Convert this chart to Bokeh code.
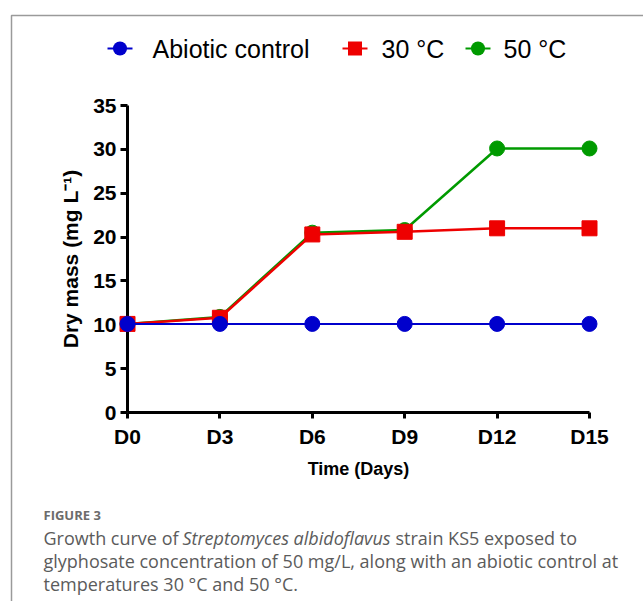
from bokeh.plotting import figure
from bokeh.models import Range1d, FixedTicker
from bokeh.core.properties import value
from bokeh.embed import file_html
from bokeh.resources import INLINE

# ---- data ----
days = [0, 3, 6, 9, 12, 15]
day_labels = ["D0", "D3", "D6", "D9", "D12", "D15"]
abiotic = [10.1, 10.1, 10.1, 10.1, 10.1, 10.1]
temp30 = [10.1, 10.8, 20.3, 20.6, 21.0, 21.0]
temp50 = [10.1, 10.9, 20.5, 20.8, 30.1, 30.1]
y_ticks = [0, 5, 10, 15, 20, 25, 30, 35]
series_names = ["Abiotic control", "30 °C", "50 °C"]

BLUE = "#0000CC"
RED = "#EE0000"
GREEN = "#009A00"
FONT = "Liberation Sans"

W, H = 643, 601
FL, FR, FT, FB = 127, 589, 105, 412  # frame edges in px

p = figure(width=W, height=H,
           x_range=Range1d(days[0], days[-1]), y_range=Range1d(y_ticks[0], y_ticks[-1]),
           output_backend="svg", toolbar_location=None,
           min_border_left=FL, min_border_right=W - FR,
           min_border_top=FT, min_border_bottom=H - FB)
p.outline_line_color = None
p.xgrid.visible = False
p.ygrid.visible = False

for ax in (p.xaxis[0], p.yaxis[0]):
    ax.axis_line_width = 3
    ax.axis_line_color = "black"
    ax.major_tick_line_width = 3
    ax.major_tick_line_color = "black"
    ax.major_tick_in = 0
    ax.minor_tick_line_color = None
    ax.major_label_text_font = FONT
    ax.major_label_text_font_style = "bold"
    ax.major_label_text_font_size = "21px"
    ax.major_label_text_color = "black"
    ax.axis_label_text_font = FONT
    ax.axis_label_text_font_style = "bold"
    ax.axis_label_text_color = "black"

xa = p.xaxis[0]
xa.ticker = FixedTicker(ticks=days)
xa.major_label_overrides = {d: lab for d, lab in zip(days, day_labels)}
xa.major_tick_out = 6
xa.major_label_standoff = 6
xa.axis_label = "Time (Days)"
xa.axis_label_text_font_size = "18px"
xa.axis_label_standoff = 8

ya = p.yaxis[0]
ya.ticker = FixedTicker(ticks=y_ticks)
ya.major_tick_out = 7
ya.major_label_standoff = 4
ya.axis_label = "Dry mass (mg L⁻¹)"
ya.axis_label_text_font_size = "21px"
ya.axis_label_standoff = 8

# draw order: green, red, blue (overlay level so edge markers are not cut)
p.line(days, temp50, line_color=GREEN, line_width=2.5, level="overlay")
p.scatter(days, temp50, marker="circle", size=15, fill_color=GREEN, line_color=GREEN, level="overlay")
p.line(days, temp30, line_color=RED, line_width=2.5, level="overlay")
p.scatter(days, temp30, marker="square", size=15, fill_color=RED, line_color=RED, level="overlay")
p.line(days, abiotic, line_color=BLUE, line_width=2, level="overlay")
p.scatter(days, abiotic, marker="circle", size=15, fill_color=BLUE, line_color=BLUE, level="overlay")

# pixel -> data helpers for decoration outside the frame
sx = (days[-1] - days[0]) / (FR - FL)
sy = (y_ticks[-1] - y_ticks[0]) / (FB - FT)
def dx(px):
    return days[0] + (px - FL) * sx
def dy(py):
    return y_ticks[0] + (FB - py) * sy

# legend (drawn above the frame)
leg_colors = [BLUE, RED, GREEN]
leg_markers = ["circle", "square", "circle"]
leg_glyph_x = [107, 342, 465]
leg_text_x = [152, 381, 503]
LEG_Y = 48
MK = 14
for name, col, mk, gx, tx in zip(series_names, leg_colors, leg_markers, leg_glyph_x, leg_text_x):
    cx = gx + 12.5
    p.line([dx(gx), dx(gx + 25)], [dy(LEG_Y), dy(LEG_Y)], line_color=col, line_width=2, level="overlay")
    if mk == "circle":
        p.line([dx(cx - 0.05), dx(cx + 0.05)], [dy(LEG_Y), dy(LEG_Y)], line_color=col,
               line_width=MK, line_cap="round", level="overlay")
    else:
        p.line([dx(cx - MK / 2), dx(cx + MK / 2)], [dy(LEG_Y), dy(LEG_Y)], line_color=col,
               line_width=MK, line_cap="butt", level="overlay")
    p.text(x=[dx(tx)], y=[dy(LEG_Y)], text=[name], text_font=value(FONT), text_font_size="25px",
           text_color="black", text_baseline="middle", text_align="left", level="overlay")

# outer frame lines (top and left)
p.line([dx(11), dx(11), dx(700)], [dy(700), dy(15), dy(15)],
       line_color="#9a9a9a", line_width=1.5, level="overlay")

CAP = "#5b5b5b"
def cap(px, py, text, size="18px", style="normal", color=CAP):
    p.text(x=[dx(px)], y=[dy(py)], text=[text], text_font=value("Open Sans"),
           text_font_size=size, text_font_style=style, text_color=color,
           text_baseline="alphabetic", text_align="left", level="overlay")

cap(43, 514, "FIGURE 3", size="13px", style="bold", color="#6b6b6b")
cap(43, 537, "Growth curve of")
cap(182, 537, "Streptomyces albidoflavus", style="italic")
cap(395, 537, "strain KS5 exposed to")
cap(43, 560, "glyphosate concentration of 50 mg/L, along with an abiotic control at")
cap(43, 583, "temperatures 30 °C and 50 °C.")

open("out.html", "w").write(file_html(p, INLINE))
